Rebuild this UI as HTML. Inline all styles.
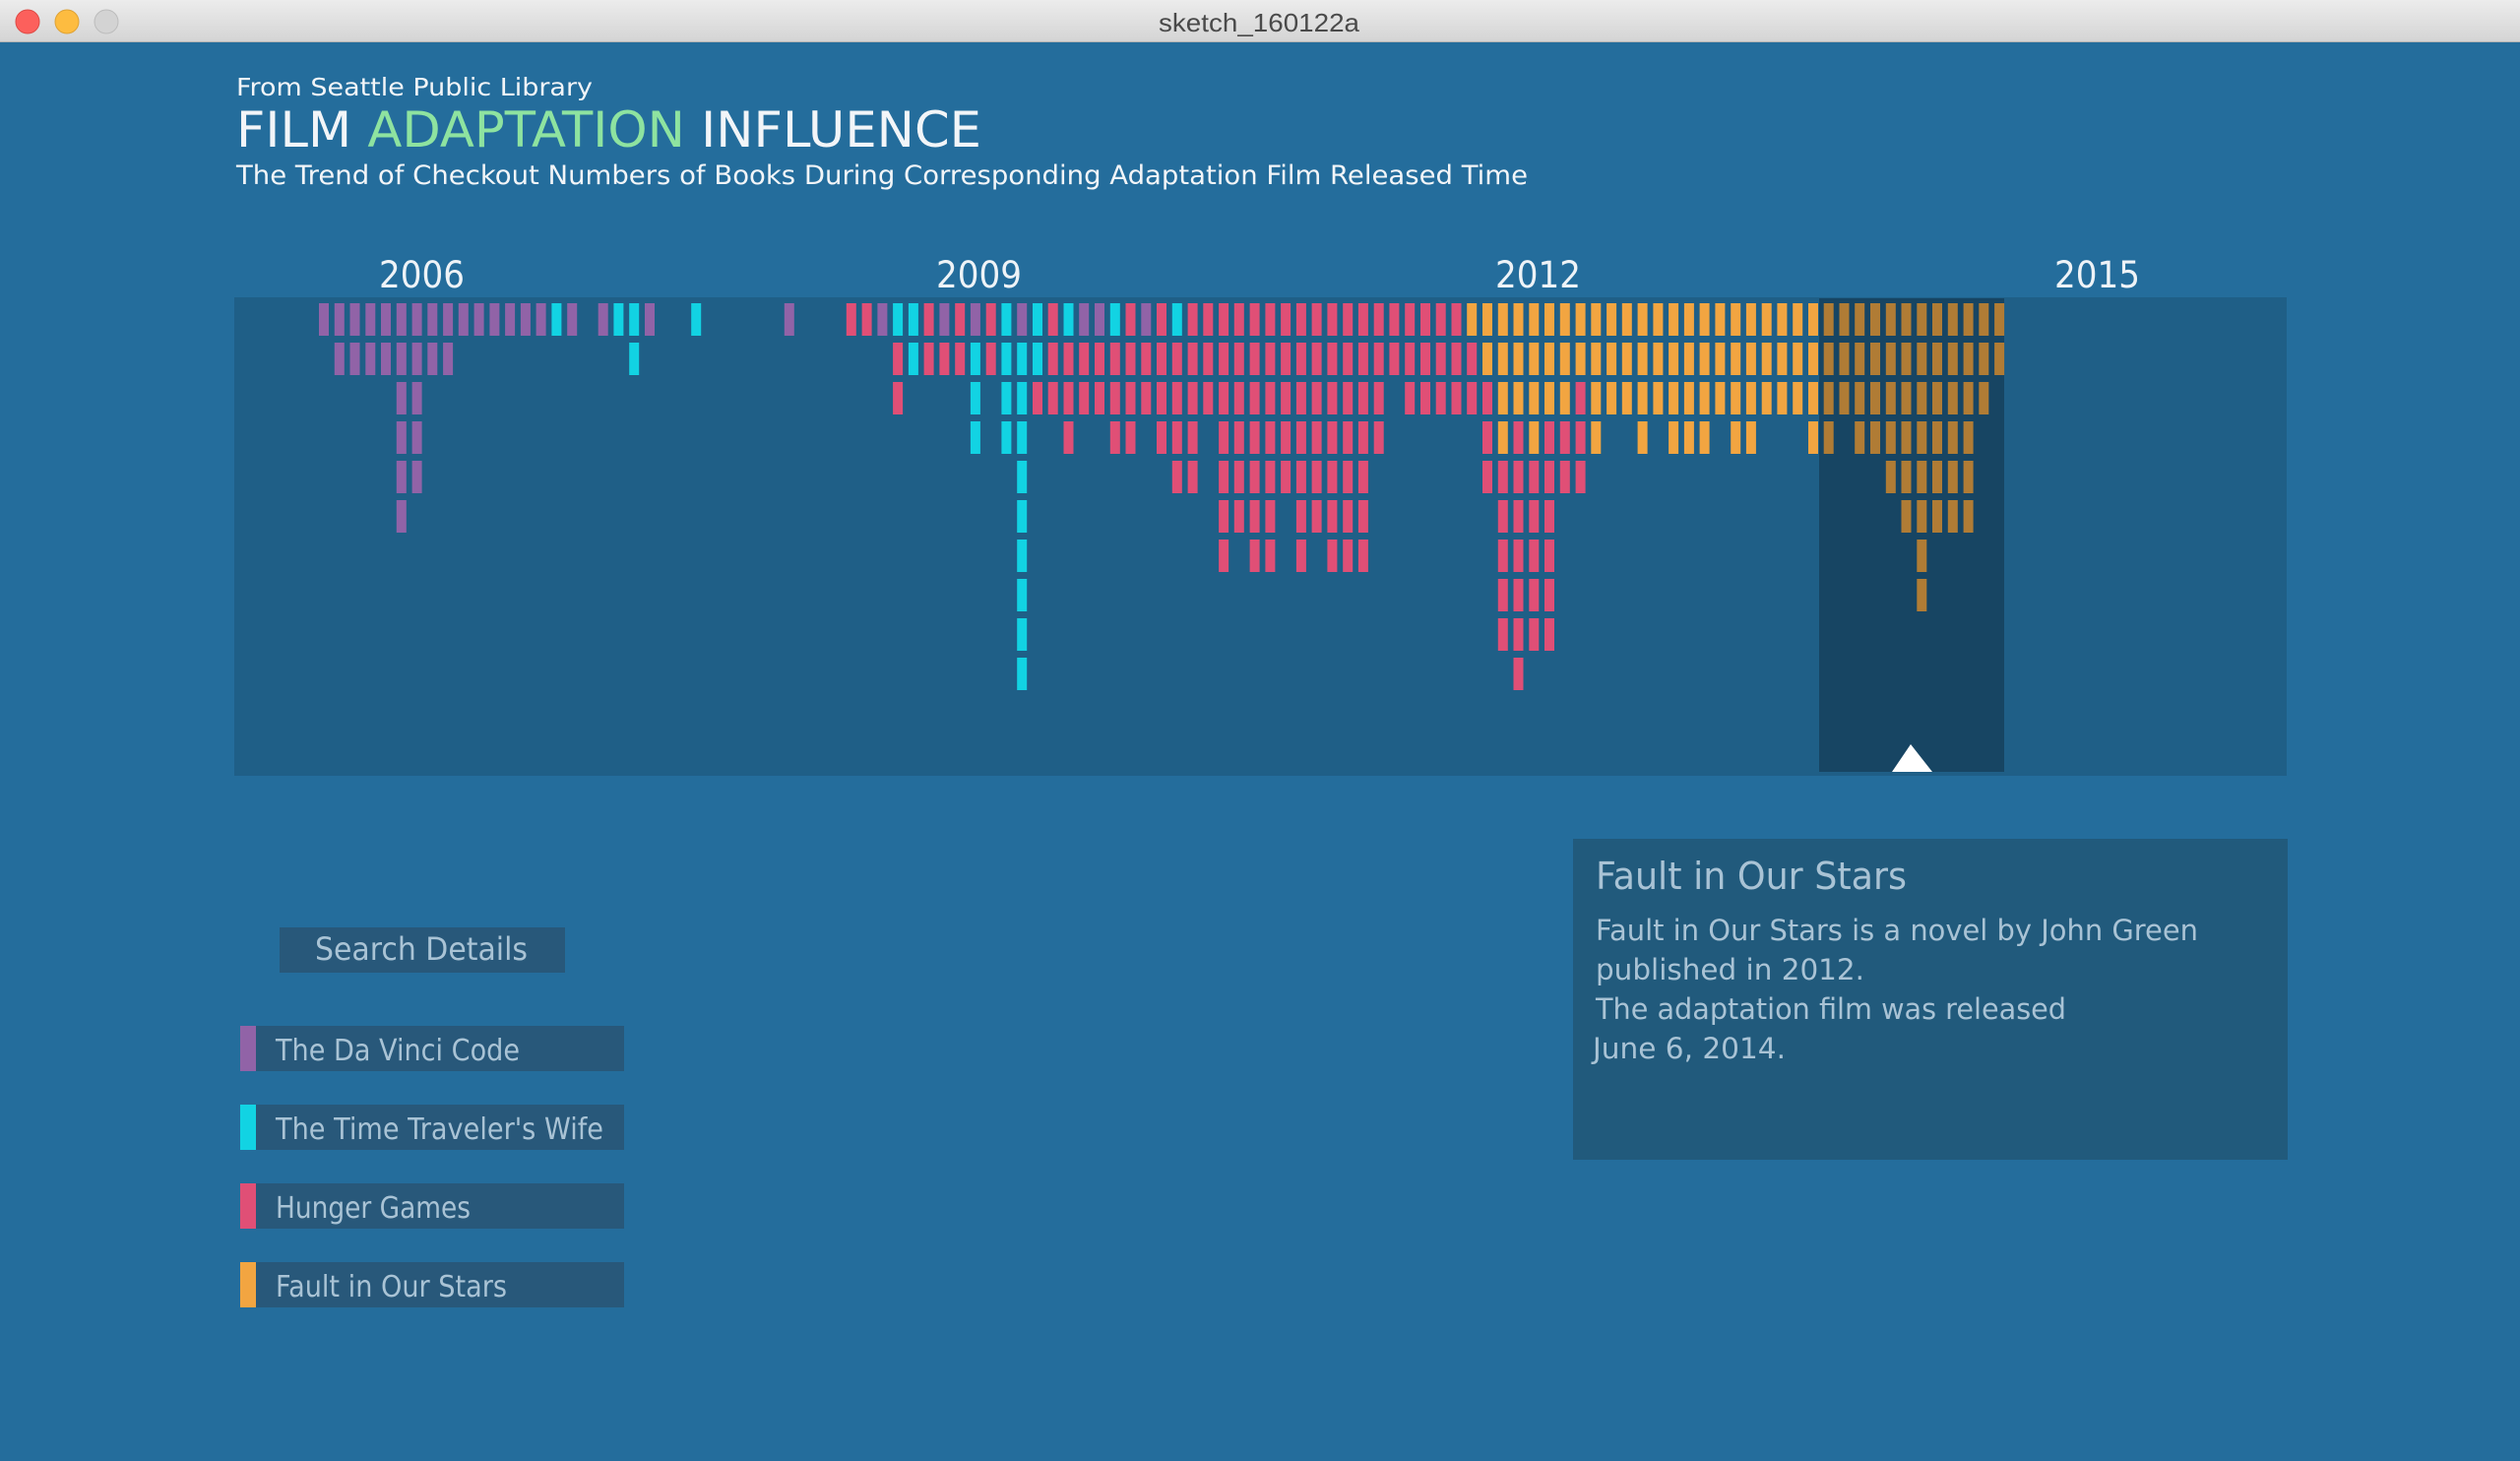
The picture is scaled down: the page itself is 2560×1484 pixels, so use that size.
<!DOCTYPE html>
<html><head><meta charset="utf-8"><style>
html,body{margin:0;padding:0;background:#246d9c;}
svg{display:block}
text{font-family:"DejaVu Sans","Liberation Sans",sans-serif;}
</style></head><body>
<svg id="s" xmlns="http://www.w3.org/2000/svg" width="2560" height="1484" viewBox="0 0 2560 1484">
<defs><linearGradient id="tb" x1="0" y1="0" x2="0" y2="1"><stop offset="0" stop-color="#ececec"/><stop offset="1" stop-color="#d4d4d4"/></linearGradient></defs>
<rect x="0" y="0" width="2560" height="1484" fill="#246d9c"/>
<rect x="0" y="0" width="2560" height="43" fill="url(#tb)"/>
<rect x="0" y="42" width="2560" height="1" fill="#b4b4b4"/>
<circle cx="28" cy="22" r="12" fill="#fc605c" stroke="#de4a45" stroke-width="1"/>
<circle cx="68" cy="22" r="12" fill="#fdbc40" stroke="#dea235" stroke-width="1"/>
<circle cx="108" cy="22" r="12" fill="#d3d3d3" stroke="#bcbcbc" stroke-width="1"/>
<text x="1177" y="32" font-size="26" fill="#4a4a4a" textLength="204" lengthAdjust="spacingAndGlyphs" style="font-family:'Liberation Sans',sans-serif">sketch_160122a</text>

<text x="240" y="97" font-size="25" fill="#f2f5f8" textLength="362" lengthAdjust="spacingAndGlyphs">From Seattle Public Library</text>
<text x="240" y="149" font-size="50" fill="#f2f5f8" textLength="757" lengthAdjust="spacingAndGlyphs">FILM <tspan fill="#8ee3a0">ADAPTATION</tspan> INFLUENCE</text>
<text x="240" y="187" font-size="27" fill="#f2f5f8" textLength="1312" lengthAdjust="spacingAndGlyphs">The Trend of Checkout Numbers of Books During Corresponding Adaptation Film Released Time</text>

<text x="385" y="292" font-size="37" fill="#eef3f7" textLength="87" lengthAdjust="spacingAndGlyphs">2006</text>
<text x="951" y="292" font-size="37" fill="#eef3f7" textLength="87" lengthAdjust="spacingAndGlyphs">2009</text>
<text x="1519" y="292" font-size="37" fill="#eef3f7" textLength="87" lengthAdjust="spacingAndGlyphs">2012</text>
<text x="2087" y="292" font-size="37" fill="#eef3f7" textLength="87" lengthAdjust="spacingAndGlyphs">2015</text>

<rect x="238" y="302" width="2085" height="486" fill="#1f5f87"/>
<rect x="1848" y="303" width="188" height="481" fill="#174563"/>
<g id="bars"></g>
<polygon points="1941,756 1922,784 1963,784" fill="#ffffff"/>

<rect x="284" y="942" width="290" height="46" fill="#28587a"/>
<text x="320" y="975" font-size="32" fill="#a9c3d5" textLength="216" lengthAdjust="spacingAndGlyphs">Search Details</text>

<rect x="244" y="1042" width="390" height="46" fill="#28587a"/><rect x="244" y="1042" width="16" height="46" fill="#9163a7"/>
<text x="280" y="1077" font-size="30" fill="#a9c3d5" textLength="248" lengthAdjust="spacingAndGlyphs">The Da Vinci Code</text>
<rect x="244" y="1122" width="390" height="46" fill="#28587a"/><rect x="244" y="1122" width="16" height="46" fill="#12d3e3"/>
<text x="280" y="1157" font-size="30" fill="#a9c3d5" textLength="333" lengthAdjust="spacingAndGlyphs">The Time Traveler's Wife</text>
<rect x="244" y="1202" width="390" height="46" fill="#28587a"/><rect x="244" y="1202" width="16" height="46" fill="#e04f76"/>
<text x="280" y="1237" font-size="30" fill="#a9c3d5" textLength="198" lengthAdjust="spacingAndGlyphs">Hunger Games</text>
<rect x="244" y="1282" width="390" height="46" fill="#28587a"/><rect x="244" y="1282" width="16" height="46" fill="#f2a541"/>
<text x="280" y="1317" font-size="30" fill="#a9c3d5" textLength="235" lengthAdjust="spacingAndGlyphs">Fault in Our Stars</text>

<rect x="1598" y="852" width="726" height="326" fill="#215a7c"/>
<text x="1621" y="903" font-size="38" fill="#a9c3d5" textLength="316" lengthAdjust="spacingAndGlyphs">Fault in Our Stars</text>
<text x="1621" y="955" font-size="29" fill="#a9c3d5" textLength="612" lengthAdjust="spacingAndGlyphs">Fault in Our Stars is a novel by John Green</text>
<text x="1621" y="995" font-size="29" fill="#a9c3d5" textLength="273" lengthAdjust="spacingAndGlyphs">published in 2012.</text>
<text x="1621" y="1035" font-size="29" fill="#a9c3d5" textLength="478" lengthAdjust="spacingAndGlyphs">The adaptation film was released</text>
<text x="1618" y="1075" font-size="29" fill="#a9c3d5" textLength="196" lengthAdjust="spacingAndGlyphs">June 6, 2014.</text>
</svg>
<script>
(function(){
var C={p:"#9163a7",c:"#12d3e3",r:"#e04f76",o:"#f2a541",d:"#b07c35"};
function row(spec){var a=[];for(var i=0;i<109;i++)a.push('.');spec.forEach(function(s){var c=s[0];var r=s[1];var e=s.length>2?s[2]:r;for(var k=r;k<=e;k++)a[k]=c;});return a;}
var rows=[
 row([['p',0,14],['c',15],['p',16],['p',18],['c',19,20],['p',21],['c',24],['p',30],['r',34,35],['p',36],['c',37,38],['r',39],['p',40],['r',41],['p',42],['r',43],['c',44],['p',45],['c',46],['r',47],['c',48],['p',49,50],['c',51],['r',52],['p',53],['r',54],['c',55],['r',56,73],['o',74,96],['d',97,108]]),
 row([['p',1,8],['c',20],['r',37],['c',38],['r',39,41],['c',42],['r',43],['c',44,46],['r',47,74],['o',75,96],['d',97,108]]),
 row([['p',5,6],['r',37],['c',42],['c',44,45],['r',46,68],['r',70,75],['o',76,80],['r',81],['o',82,96],['d',97,107]]),
 row([['p',5,6],['c',42],['c',44,45],['r',48],['r',51,52],['r',54,56],['r',58,68],['r',75],['o',76],['r',77],['o',78],['r',79,81],['o',82],['o',85],['o',87,89],['o',91,92],['o',96],['d',97],['d',99,106]]),
 row([['p',5,6],['c',45],['r',55,56],['r',58,67],['r',75,81],['d',101,106]]),
 row([['p',5],['c',45],['r',58,61],['r',63,67],['r',76,79],['d',102,106]]),
 row([['c',45],['r',58],['r',60,61],['r',63],['r',65,67],['r',76,79],['d',103]]),
 row([['c',45],['r',76,79],['d',103]]),
 row([['c',45],['r',76,79]]),
 row([['c',45],['r',77]])
];
var g=document.getElementById('bars');var ns="http://www.w3.org/2000/svg";
rows.forEach(function(a,ri){for(var k=0;k<a.length;k++){if(a[k]=='.')continue;var r=document.createElementNS(ns,'rect');r.setAttribute('x',(324+k*15.76).toFixed(1));r.setAttribute('y',308+ri*40);r.setAttribute('width',10);r.setAttribute('height',33);r.setAttribute('fill',C[a[k]]);g.appendChild(r);}});
})();
</script>
</body></html>
